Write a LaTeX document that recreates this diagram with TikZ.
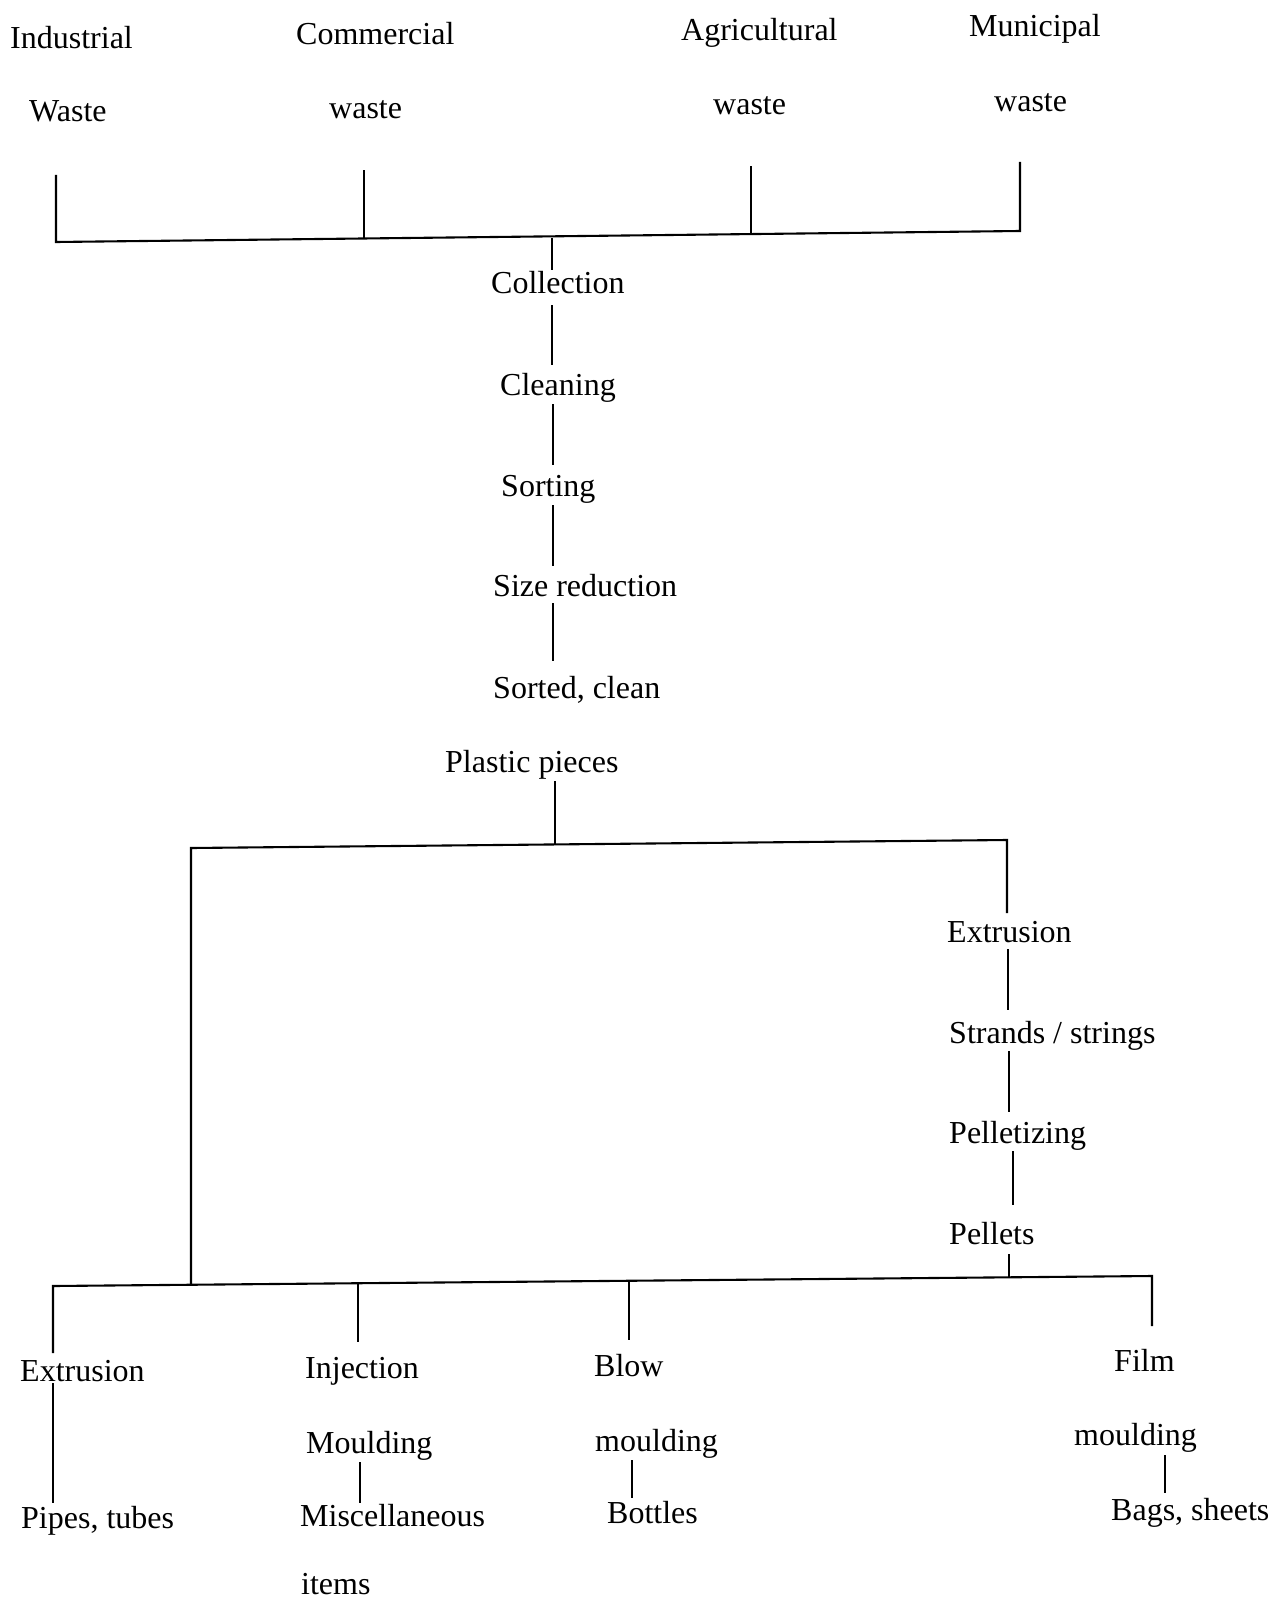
\documentclass[tikz,border=0pt]{standalone}
\usepackage{fontspec}
\setmainfont{Liberation Serif}
\begin{document}
\begin{tikzpicture}[x=1pt,y=-1pt,
  txt/.style={anchor=base west, inner sep=0pt, yshift=-3pt, font=\fontsize{32}{38}\selectfont},
  ln/.style={line width=2.1pt, line cap=rect}]
\useasboundingbox (0,0) rectangle (1271,1602);
\fill[white] (0,0) rectangle (1271,1602);
% ---- texts ----
\node[txt] (ind1) at (10,46) {Industrial};
\node[txt] (ind2) at (29,119) {Waste};
\node[txt] (com1) at (296,42) {Commercial};
\node[txt] (com2) at (329,116) {waste};
\node[txt] (agr1) at (681,38) {Agricultural};
\node[txt] (agr2) at (713,112) {waste};
\node[txt] (mun1) at (969,34) {Municipal};
\node[txt] (mun2) at (994,109) {waste};
\node[txt] (coll) at (491,291) {Collection};
\node[txt] (clean) at (500,392) {Cleaning};
\node[txt] (sort) at (501,493) {Sorting};
\node[txt] (size) at (493,593) {Size reduction};
\node[txt] (sc1) at (493,695) {Sorted, clean};
\node[txt] (sc2) at (445,769) {Plastic pieces};
\node[txt] (ext1) at (947,939) {Extrusion};
\node[txt] (str) at (949,1040) {Strands / strings};
\node[txt] (pel) at (949,1140) {Pelletizing};
\node[txt] (pels) at (949,1241) {Pellets};
\node[txt] (ext2) at (20,1378) {Extrusion};
\node[txt] (pipes) at (21,1525) {Pipes, tubes};
\node[txt] (inj1) at (305,1375) {Injection};
\node[txt] (inj2) at (306,1450) {Moulding};
\node[txt] (misc1) at (300,1523) {Miscellaneous};
\node[txt] (misc2) at (301,1591) {items};
\node[txt] (blow1) at (594,1373) {Blow};
\node[txt] (blow2) at (595,1448) {moulding};
\node[txt] (bott) at (607,1520) {Bottles};
\node[txt] (film1) at (1114,1368) {Film};
\node[txt] (film2) at (1074,1442) {moulding};
\node[txt] (bags) at (1111,1517) {Bags, sheets};
% ---- coordinates ----
\coordinate (t1a) at (56,176);   \coordinate (t1b) at (56,242);
\coordinate (t2a) at (364,171);  \coordinate (t2b) at (364,238);
\coordinate (t3a) at (751,167);  \coordinate (t3b) at (751,234);
\coordinate (t4a) at (1020,163); \coordinate (t4b) at (1020,231);
\coordinate (tr0) at (552,239);  \coordinate (tr1) at (552,269);
\coordinate (c1a) at (552,306);  \coordinate (c1b) at (552,364);
\coordinate (c2a) at (553,405);  \coordinate (c2b) at (553,464);
\coordinate (c3a) at (553,506);  \coordinate (c3b) at (553,565);
\coordinate (c4a) at (553,604);  \coordinate (c4b) at (553,660);
\coordinate (c5a) at (555,782);  \coordinate (c5b) at (555,844);
\coordinate (mL) at (191,848);   \coordinate (mR) at (1007,840);
\coordinate (mLb) at (191,1284); \coordinate (mRb) at (1007,912);
\coordinate (r1a) at (1008,950); \coordinate (r1b) at (1008,1009);
\coordinate (r2a) at (1009,1052);\coordinate (r2b) at (1009,1111);
\coordinate (r3a) at (1013,1152);\coordinate (r3b) at (1013,1204);
\coordinate (r4a) at (1009,1255);\coordinate (r4b) at (1009,1277);
\coordinate (bL) at (53,1286);   \coordinate (bR) at (1152,1276);
\coordinate (b1b) at (53,1352);
\coordinate (b1c) at (53,1384);  \coordinate (b1d) at (53,1502);
\coordinate (b2a) at (358,1284); \coordinate (b2b) at (358,1341);
\coordinate (b3a) at (629,1282); \coordinate (b3b) at (629,1339);
\coordinate (b4b) at (1152,1325);
\coordinate (d2a) at (360,1463); \coordinate (d2b) at (360,1502);
\coordinate (d3a) at (632,1461); \coordinate (d3b) at (632,1497);
\coordinate (d4a) at (1165,1456);\coordinate (d4b) at (1165,1492);
% ---- lines ----
\draw[ln] (t1a) -- (t1b) -- (t4b) -- (t4a);
\draw[ln] (t2a) -- (t2b);
\draw[ln] (t3a) -- (t3b);
\draw[ln] (tr0) -- (tr1);
\draw[ln] (c1a) -- (c1b);
\draw[ln] (c2a) -- (c2b);
\draw[ln] (c3a) -- (c3b);
\draw[ln] (c4a) -- (c4b);
\draw[ln] (c5a) -- (c5b);
\draw[ln] (mLb) -- (mL) -- (mR) -- (mRb);
\draw[ln] (r1a) -- (r1b);
\draw[ln] (r2a) -- (r2b);
\draw[ln] (r3a) -- (r3b);
\draw[ln] (r4a) -- (r4b);
\draw[ln] (b1b) -- (bL) -- (bR) -- (b4b);
\draw[ln] (b1c) -- (b1d);
\draw[ln] (b2a) -- (b2b);
\draw[ln] (b3a) -- (b3b);
\draw[ln] (d2a) -- (d2b);
\draw[ln] (d3a) -- (d3b);
\draw[ln] (d4a) -- (d4b);
\end{tikzpicture}
\end{document}
